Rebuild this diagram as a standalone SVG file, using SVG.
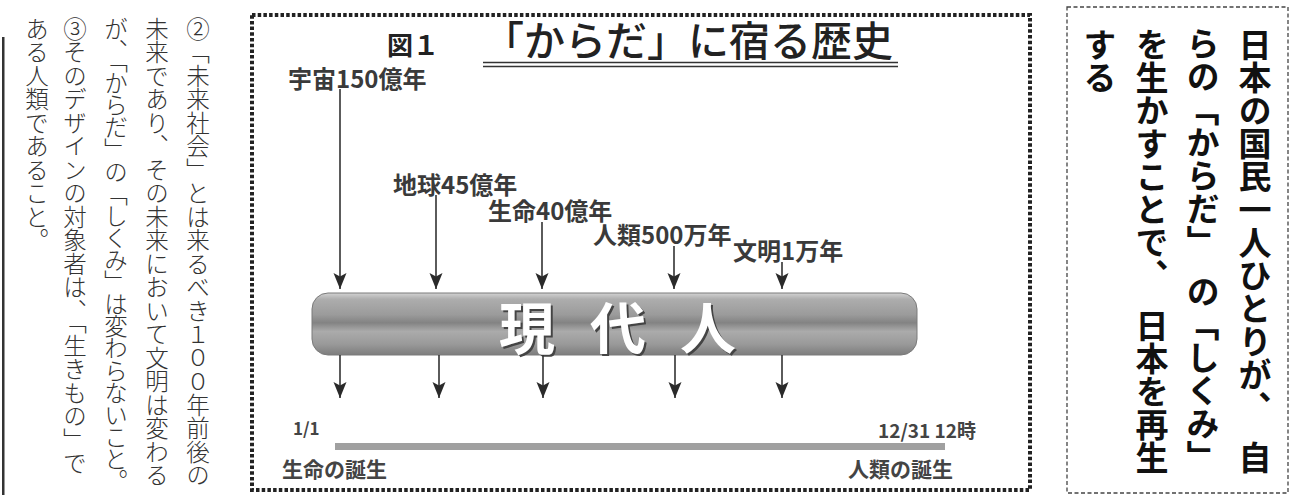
<svg xmlns="http://www.w3.org/2000/svg" width="1290" height="495" viewBox="0 0 1290 495">
  <style>
    .lt { font-family: "Noto Sans CJK JP", "Liberation Sans", sans-serif; font-size: 23.5px; font-weight: 300; fill: #333; writing-mode: vertical-rl; }
    .rt { font-family: "Noto Sans CJK JP", "Liberation Sans", sans-serif; font-size: 33px; font-weight: 700; fill: #111; writing-mode: vertical-rl; }
    .lbl { font-family: "Noto Sans CJK JP", "Liberation Sans", sans-serif; font-size: 24px; font-weight: 700; fill: #3a3a3a; }
    .sm { font-family: "Noto Sans CJK JP", "Liberation Sans", sans-serif; font-weight: 700; fill: #444; }
    .conn { stroke: #333; stroke-width: 1.6; fill: none; marker-end: url(#ah); }
    .big { font-family: "Noto Sans CJK JP", "Liberation Sans", sans-serif; font-size: 56px; font-weight: 700; text-anchor: middle; }
  </style>
  <defs>
    <marker id="ah" markerUnits="userSpaceOnUse" markerWidth="17" markerHeight="14" refX="16" refY="6.5" orient="auto">
      <path d="M0,0 L16,6.5 L0,13 L3.5,6.5 z" fill="#2a2a2a"/>
    </marker>
    <linearGradient id="barg" x1="0" y1="0" x2="0" y2="1">
      <stop offset="0" stop-color="#d2d2d2"/>
      <stop offset="0.1" stop-color="#adadad"/>
      <stop offset="0.35" stop-color="#9b9b9b"/>
      <stop offset="0.48" stop-color="#838383"/>
      <stop offset="0.62" stop-color="#ababab"/>
      <stop offset="0.82" stop-color="#9a9a9a"/>
      <stop offset="1" stop-color="#7d7d7d"/>
    </linearGradient>
  </defs>

  <!-- left text column -->
  <g id="left-text">
    <rect x="2" y="37" width="2.5" height="458" fill="#333"/>
    <text class="lt" x="198" y="17">②「未来社会」とは来るべき１００年前後の</text>
    <text class="lt" x="157" y="17">未来であり、その未来において文明は変わる</text>
    <text class="lt" x="116" y="17" letter-spacing="-1.4">が、「からだ」の「しくみ」は変わらないこと。</text>
    <text class="lt" x="75" y="17">③そのデザインの対象者は、「生きもの」で</text>
    <text class="lt" x="37" y="17">ある人類であること。</text>
  </g>

  <!-- main figure frame -->
  <g id="frame">
    <rect x="252" y="15" width="778" height="475" fill="none" stroke="#222" stroke-width="4" stroke-dasharray="3.5 2.2"/>
  </g>

  <g id="title">
    <text x="387" y="55" font-family="Noto Sans CJK JP, sans-serif" font-size="26" font-weight="700" fill="#222">図１</text>
    <text x="483" y="56" font-family="Noto Sans CJK JP, sans-serif" font-size="41" font-weight="500" fill="#222">「からだ」に宿る歴史</text>
    <line x1="483" y1="62.5" x2="898" y2="62.5" stroke="#333" stroke-width="1.3"/>
    <line x1="483" y1="66.5" x2="898" y2="66.5" stroke="#333" stroke-width="1.3"/>
  </g>

  <g id="label-uchu"><text class="lbl" x="288" y="88">宇宙150億年</text></g>
  <g id="label-chikyu"><text class="lbl" x="393" y="194">地球45億年</text></g>
  <g id="label-seimei"><text class="lbl" x="488" y="220">生命40億年</text></g>
  <g id="label-jinrui"><text class="lbl" x="593" y="244">人類500万年</text></g>
  <g id="label-bunmei"><text class="lbl" x="733" y="260">文明1万年</text></g>

  <g id="gendaijin">
    <rect x="312" y="293" width="605" height="62" rx="16" ry="16" fill="url(#barg)" stroke="#7a7a7a" stroke-width="1"/>
    <g class="big">
      <text x="529" y="351" fill="#444">現</text>
      <text x="620" y="351" fill="#444">代</text>
      <text x="710" y="351" fill="#444">人</text>
      <text x="527" y="349" fill="#fff">現</text>
      <text x="618" y="349" fill="#fff">代</text>
      <text x="708" y="349" fill="#fff">人</text>
    </g>
  </g>

  <g id="connectors">
    <line class="conn" x1="340" y1="89" x2="340" y2="289"/>
    <line class="conn" x1="436" y1="195" x2="436" y2="289"/>
    <line class="conn" x1="542" y1="222" x2="542" y2="289"/>
    <line class="conn" x1="674" y1="246" x2="674" y2="289"/>
    <line class="conn" x1="782" y1="262" x2="782" y2="289"/>
    <line class="conn" x1="340" y1="355" x2="340" y2="398"/>
    <line class="conn" x1="439" y1="355" x2="439" y2="398"/>
    <line class="conn" x1="543" y1="355" x2="543" y2="398"/>
    <line class="conn" x1="675" y1="355" x2="675" y2="398"/>
    <line class="conn" x1="782" y1="355" x2="782" y2="398"/>
  </g>

  <g id="timeline">
    <rect x="335" y="443" width="610" height="7" fill="#a0a0a0"/>
    <text class="sm" x="293" y="435" font-size="17">1/1</text>
    <text class="sm" x="282" y="477" font-size="21" fill="#333">生命の誕生</text>
    <text class="sm" x="878" y="438" font-size="19">12/31 12時</text>
    <text class="sm" x="848" y="477" font-size="21" fill="#333">人類の誕生</text>
  </g>

  <!-- right box -->
  <g id="right-box">
    <rect x="1067" y="7" width="221" height="486" fill="none" stroke="#444" stroke-width="1.3" stroke-dasharray="4 2.5"/>
    <text class="rt" x="1255" y="28">日本の国民一人ひとりが、　自</text>
    <text class="rt" x="1203" y="27">らの「からだ」　の「しくみ」</text>
    <text class="rt" x="1152" y="28">を生かすことで、　日本を再生</text>
    <text class="rt" x="1100" y="28">する</text>
  </g>
</svg>
